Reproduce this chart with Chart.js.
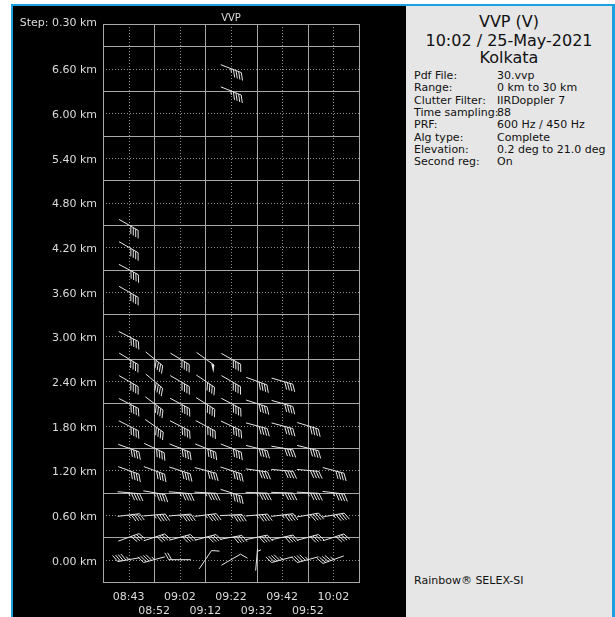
<!DOCTYPE html>
<html>
<head>
<meta charset="utf-8">
<script src="https://cdn.jsdelivr.net/npm/chart.js@4/dist/chart.umd.min.js"></script>
<style>
  body { margin: 0; background: #fff; font-family: "DejaVu Sans", sans-serif; }
  #frame { position: absolute; left: 11px; top: 4px; width: 604px; height: 613px; background: #1ba1e2; }
  #plot { position: absolute; left: 13px; top: 6px; width: 393px; height: 611px; background: #000; }
  #info { position: absolute; left: 406px; top: 6px; width: 206px; height: 611px; background: #e6e6e6; color: #111; }
  #info .head { position: absolute; left: 0; width: 206px; text-align: center; font-size: 16px; line-height: 18px; }
  #info .row { position: absolute; left: 8px; font-size: 11px; line-height: 13px; white-space: nowrap; }
  #info .row span { position: absolute; left: 83px; }
  #brand { position: absolute; left: 8px; top: 568px; font-size: 11px; }
</style>
</head>
<body>
<div id="frame"></div>
<div id="plot"><canvas id="vvp" width="393" height="611"></canvas></div>
<div id="info"></div>
<script>
// scan times (x categories) and heights in km (rows of barbs)
const times = ['08:43', '08:52', '09:02', '09:12', '09:22', '09:32', '09:42', '09:52', '10:02'];
const levels = [0.0, 0.3, 0.6, 0.9, 1.2, 1.5, 1.8, 2.1, 2.4, 2.7, 3.0, 3.3, 3.6, 3.9, 4.2, 4.5, 4.8, 5.1, 5.4, 5.7, 6.0, 6.3, 6.6];

// barb bearing (deg) per level, one entry per scan time, null = no estimate
const windDir = [
  [260, 255, 270, 34, 60, 5, 255, 255, 250],       // 0.0
  [70, 72, 75, 75, 80, 78, 78, 75, 72],             // 0.3
  [83, 85, 85, 83, 87, 85, 83, 80, 80],             // 0.6
  [95, 100, 95, 93, 108, 92, 92, 93, 97],           // 0.9
  [110, 110, 108, 105, 108, 98, 95, 95, 105],       // 1.2
  [110, 115, 112, 112, 112, 104, 100, 104, null],   // 1.5
  [117, 125, 117, 118, 115, 105, 105, 107, null],   // 1.8
  [117, 127, 118, 122, 118, 108, 106, null, null],  // 2.1
  [120, 130, 120, 124, 120, 110, 106, null, null],  // 2.4
  [121, 129, 121, 126, 119, null, null, null, null],// 2.7
  [117, null, null, null, null, null, null, null, null], // 3.0
  [null, null, null, null, null, null, null, null, null], // 3.3
  [120, null, null, null, null, null, null, null, null], // 3.6
  [118, null, null, null, null, null, null, null, null], // 3.9
  [120, null, null, null, null, null, null, null, null], // 4.2
  [120, null, null, null, null, null, null, null, null], // 4.5
  [null, null, null, null, null, null, null, null, null], // 4.8
  [null, null, null, null, null, null, null, null, null], // 5.1
  [null, null, null, null, null, null, null, null, null], // 5.4
  [null, null, null, null, null, null, null, null, null], // 5.7
  [null, null, null, null, null, null, null, null, null], // 6.0
  [null, null, null, null, 112, null, null, null, null], // 6.3
  [null, null, null, null, 111, null, null, null, null]  // 6.6
];

// wind speed (kt) per level, same layout as windDir
const windSpd = [
  [45, 45, 20, 10, 10, 5, 45, 45, 45],
  [40, 40, 40, 40, 40, 40, 40, 40, 40],
  [45, 45, 45, 45, 45, 45, 45, 45, 45],
  [45, 45, 45, 45, 45, 45, 45, 45, 45],
  [40, 40, 40, 40, 40, 40, 40, 40, 40],
  [40, 40, 40, 40, 40, 40, 40, 40, null],
  [40, 40, 40, 40, 40, 40, 40, 40, null],
  [40, 40, 40, 40, 40, 40, 40, null, null],
  [40, 40, 40, 40, 40, 40, 40, null, null],
  [40, 40, 40, 50, 40, null, null, null, null],
  [40, null, null, null, null, null, null, null, null],
  [null, null, null, null, null, null, null, null, null],
  [40, null, null, null, null, null, null, null, null],
  [40, null, null, null, null, null, null, null, null],
  [40, null, null, null, null, null, null, null, null],
  [40, null, null, null, null, null, null, null, null],
  [null, null, null, null, null, null, null, null, null],
  [null, null, null, null, null, null, null, null, null],
  [null, null, null, null, null, null, null, null, null],
  [null, null, null, null, null, null, null, null, null],
  [null, null, null, null, null, null, null, null, null],
  [null, null, null, null, 45, null, null, null, null],
  [null, null, null, null, 45, null, null, null, null]
];

const infoRows = [
  ['Pdf File:', '30.vvp'],
  ['Range:', '0 km to 30 km'],
  ['Clutter Filter:', 'IIRDoppler 7'],
  ['Time sampling:', '88'],
  ['PRF:', '600 Hz / 450 Hz'],
  ['Alg type:', 'Complete'],
  ['Elevation:', '0.2 deg to 21.0 deg'],
  ['Second reg:', 'On']
];

// right hand info panel
const info = document.getElementById('info');
[['VVP (V)', 7], ['10:02 / 25-May-2021', 26], ['Kolkata', 43]].forEach(([t, top]) => {
  const d = document.createElement('div');
  d.className = 'head';
  d.style.top = top + 'px';
  d.textContent = t;
  info.appendChild(d);
});
infoRows.forEach(([k, v], i) => {
  const d = document.createElement('div');
  d.className = 'row';
  d.style.top = (63 + i * 12.3) + 'px';
  d.innerHTML = k + '<span>' + v + '</span>';
  info.appendChild(d);
});
const brand = document.createElement('div');
brand.id = 'brand';
brand.textContent = 'Rainbow\u00ae SELEX-SI';
info.appendChild(brand);

// flatten to scatter points
const points = [];
levels.forEach((h, li) => {
  times.forEach((t, ti) => {
    if (windSpd[li][ti] != null) {
      points.push({ x: ti, y: h, dir: windDir[li][ti], spd: windSpd[li][ti] });
    }
  });
});

function drawBarb(ctx, x, y, dir, spd) {
  const th = (dir - 90) * Math.PI / 180;
  const ux = Math.cos(th), uy = Math.sin(th);
  const L = 22, F = 8, gap = 2.8;
  const tx = x + ux * L / 2, ty = y + uy * L / 2;
  ctx.beginPath();
  ctx.moveTo(x - ux * L / 2, y - uy * L / 2);
  ctx.lineTo(tx, ty);
  ctx.stroke();
  const fa = th + Math.PI / 3;
  const fx = Math.cos(fa), fy = Math.sin(fa);
  let s = Math.round(spd / 5) * 5;
  let pos = 0;
  while (s >= 50) {
    ctx.beginPath();
    ctx.moveTo(tx - ux * pos, ty - uy * pos);
    ctx.lineTo(tx - ux * pos + fx * F, ty - uy * pos + fy * F);
    ctx.lineTo(tx - ux * (pos + 4), ty - uy * (pos + 4));
    ctx.closePath();
    ctx.fill();
    pos += 6;
    s -= 50;
  }
  while (s >= 10) {
    ctx.beginPath();
    ctx.moveTo(tx - ux * pos, ty - uy * pos);
    ctx.lineTo(tx - ux * pos + fx * F, ty - uy * pos + fy * F);
    ctx.stroke();
    pos += gap;
    s -= 10;
  }
  if (s >= 5) {
    if (pos === 0) pos = gap;
    ctx.beginPath();
    ctx.moveTo(tx - ux * pos, ty - uy * pos);
    ctx.lineTo(tx - ux * pos + fx * F / 2, ty - uy * pos + fy * F / 2);
    ctx.stroke();
  }
}

const gridPlugin = {
  id: 'vvpGrid',
  beforeDatasetsDraw(chart) {
    const { ctx, chartArea: a, scales: { x, y } } = chart;
    ctx.save();
    ctx.lineWidth = 1;
    // dotted lines on label rows / columns
    ctx.strokeStyle = '#909090';
    ctx.setLineDash([1, 2]);
    for (let i = 0; i <= 8; i += 2) {
      const px = Math.round(x.getPixelForValue(i)) + 0.5;
      ctx.beginPath(); ctx.moveTo(px, a.top); ctx.lineTo(px, a.bottom); ctx.stroke();
    }
    for (let k = 0; k <= 11; k++) {
      const py = Math.round(y.getPixelForValue(k * 0.6)) + 0.5;
      ctx.beginPath(); ctx.moveTo(a.left, py); ctx.lineTo(a.right, py); ctx.stroke();
    }
    // solid lines in between
    ctx.setLineDash([]);
    ctx.strokeStyle = '#a8a8a8';
    for (let i = -1; i <= 9; i += 2) {
      const px = Math.round(x.getPixelForValue(i)) + 0.5;
      ctx.beginPath(); ctx.moveTo(px, a.top); ctx.lineTo(px, a.bottom + 1); ctx.stroke();
    }
    for (let k = -1; k <= 24; k += 2) {
      const py = Math.round(y.getPixelForValue(k * 0.3)) + 0.5;
      ctx.beginPath(); ctx.moveTo(a.left, py); ctx.lineTo(a.right, py); ctx.stroke();
    }
    const topPy = Math.round(y.getPixelForValue(7.2)) + 0.5;
    ctx.beginPath(); ctx.moveTo(a.left, topPy); ctx.lineTo(a.right, topPy); ctx.stroke();
    // headings
    ctx.fillStyle = '#dcdcdc';
    ctx.font = '10px "DejaVu Sans"';
    ctx.textAlign = 'center';
    ctx.textBaseline = 'middle';
    ctx.fillText('VVP', (a.left + a.right) / 2, a.top - 6);
    ctx.font = '11px "DejaVu Sans"';
    ctx.textAlign = 'right';
    ctx.fillText('Step: 0.30 km', a.left - 6, a.top - 1);
    ctx.restore();
  },
  afterDatasetsDraw(chart) {
    const { ctx, scales: { x, y } } = chart;
    ctx.save();
    ctx.strokeStyle = '#e6e6e6';
    ctx.fillStyle = '#e6e6e6';
    ctx.lineWidth = 1;
    points.forEach(p => {
      drawBarb(ctx, x.getPixelForValue(p.x), y.getPixelForValue(p.y), p.dir, p.spd);
    });
    ctx.restore();
  }
};

new Chart(document.getElementById('vvp'), {
  type: 'scatter',
  data: {
    datasets: [{ data: points, pointRadius: 0, showLine: false }]
  },
  options: {
    responsive: false,
    animation: false,
    devicePixelRatio: 1,
    layout: { padding: { top: 18, right: 47, left: 0, bottom: 0 } },
    plugins: { legend: { display: false }, tooltip: { enabled: false } },
    scales: {
      x: {
        type: 'linear', min: -1, max: 9,
        grid: { display: false, drawTicks: false },
        border: { display: false },
        afterFit(scale) { scale.height = 35; },
        ticks: {
          stepSize: 1, autoSkip: false, maxRotation: 0, padding: 9,
          color: '#dcdcdc', font: { family: 'DejaVu Sans', size: 11, lineHeight: 1.2 },
          callback(v) {
            if (v < 0 || v > 8) return '';
            return v % 2 === 0 ? [times[v], ''] : ['', times[v]];
          }
        }
      },
      y: {
        type: 'linear', min: -0.3, max: 7.2,
        grid: { display: false, drawTicks: false },
        border: { display: false },
        afterFit(scale) { scale.width = 90; },
        ticks: {
          stepSize: 0.3, autoSkip: false, padding: 6, labelOffset: 2,
          color: '#dcdcdc', font: { family: 'DejaVu Sans', size: 11 },
          callback(v) {
            const k = Math.round(v * 10);
            if (k < 0 || k > 66 || k % 6 !== 0) return '';
            return (k / 10).toFixed(2) + ' km';
          }
        }
      }
    }
  },
  plugins: [gridPlugin]
});
</script>
</body>
</html>
